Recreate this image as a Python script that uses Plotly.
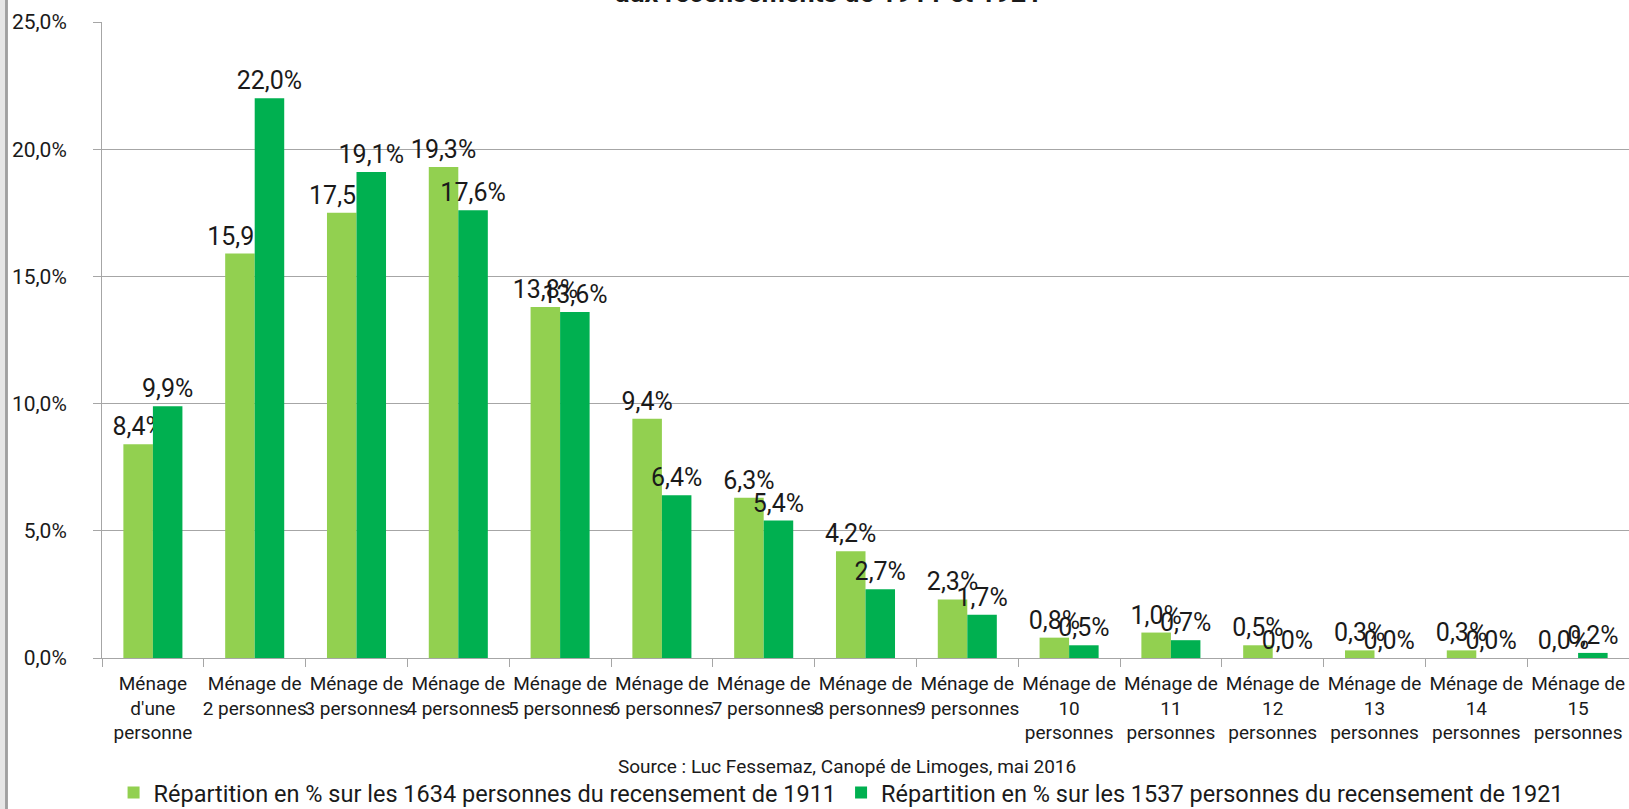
import plotly.graph_objects as go

# ---------------------------------------------------------------------------
# Data
# ---------------------------------------------------------------------------
categories = [
    "Ménage<br>d'une<br>personne",
    "Ménage de<br>2 personnes",
    "Ménage de<br>3 personnes",
    "Ménage de<br>4 personnes",
    "Ménage de<br>5 personnes",
    "Ménage de<br>6 personnes",
    "Ménage de<br>7 personnes",
    "Ménage de<br>8 personnes",
    "Ménage de<br>9 personnes",
    "Ménage de<br>10<br>personnes",
    "Ménage de<br>11<br>personnes",
    "Ménage de<br>12<br>personnes",
    "Ménage de<br>13<br>personnes",
    "Ménage de<br>14<br>personnes",
    "Ménage de<br>15<br>personnes",
]
pct_1911 = [8.4, 15.9, 17.5, 19.3, 13.8, 9.4, 6.3, 4.2, 2.3, 0.8, 1.0, 0.5, 0.3, 0.3, 0.0]
pct_1921 = [9.9, 22.0, 19.1, 17.6, 13.6, 6.4, 5.4, 2.7, 1.7, 0.5, 0.7, 0.0, 0.0, 0.0, 0.2]

name_1911 = "Répartition en % sur les 1634 personnes du recensement de 1911"
name_1921 = "Répartition en % sur les 1537 personnes du recensement de 1921"
title_text = "aux recensements de 1911 et 1921"
source_text = "Source : Luc Fessemaz, Canopé de Limoges, mai 2016"

FONT = "Roboto, Noto Sans, sans-serif"
LIGHT = "#92D050"
DARK = "#00B050"
GRID = "#a6a6a6"

fig = go.Figure()
for vals, name, color in [(pct_1911, name_1911, LIGHT), (pct_1921, name_1921, DARK)]:
    fig.add_trace(go.Bar(
        x=categories, y=vals, name=name, marker_color=color,
        marker_line_width=0,
        texttemplate="%{y:.1f}%", textposition="outside",
        textangle=0, constraintext="none", cliponaxis=False,
        textfont=dict(size=25, color="#1a1a1a", family=FONT),
    ))

fig.update_layout(
    width=1629, height=809,
    margin=dict(l=102, r=0, t=22, b=151, autoexpand=False),
    separators=", ",
    paper_bgcolor="white", plot_bgcolor="white",
    font=dict(family=FONT, color="#1a1a1a"),
    barmode="group", bargap=0.42, bargroupgap=0,
    xaxis=dict(
        showline=True, linecolor=GRID, ticks="outside", tickson="boundaries",
        ticklen=8, tickcolor=GRID, tickfont=dict(size=19), showgrid=False,
        tickangle=0, ticklabelstandoff=8, automargin=False,
    ),
    yaxis=dict(
        range=[0, 25], dtick=5, tickformat=".1f", ticksuffix="%",
        showline=True, linecolor=GRID, gridcolor=GRID, zeroline=False,
        ticks="outside", ticklen=8, tickcolor=GRID, ticklabelstandoff=22,
        tickfont=dict(size=21), automargin=False,
    ),
    legend=dict(
        orientation="h", x=0.484, xanchor="center", y=-0.212, yanchor="middle",
        font=dict(size=23.5), itemsizing="constant", bgcolor="rgba(0,0,0,0)",
    ),
    annotations=[
        dict(text=f"<b>{title_text}</b>", xref="paper", yref="paper",
             x=0.476, y=1.045, xanchor="center", yanchor="middle",
             showarrow=False, font=dict(size=27)),
        dict(text=source_text, xref="paper", yref="paper",
             x=0.488, y=-0.170, xanchor="center", yanchor="middle",
             showarrow=False, font=dict(size=19)),
    ],
    shapes=[
        dict(type="rect", xref="paper", yref="paper", x0=-0.0668, x1=-0.0635,
             y0=-0.3, y1=1.1, fillcolor="#e6e6e6", line_width=0),
        dict(type="rect", xref="paper", yref="paper", x0=-0.0635, x1=-0.0616,
             y0=-0.3, y1=1.1, fillcolor="#a0a0a0", line_width=0),
    ],
)

fig.write_html(
    "out.html",
    config={"displayModeBar": False},
    post_script="document.body.style.margin='0';",
)
